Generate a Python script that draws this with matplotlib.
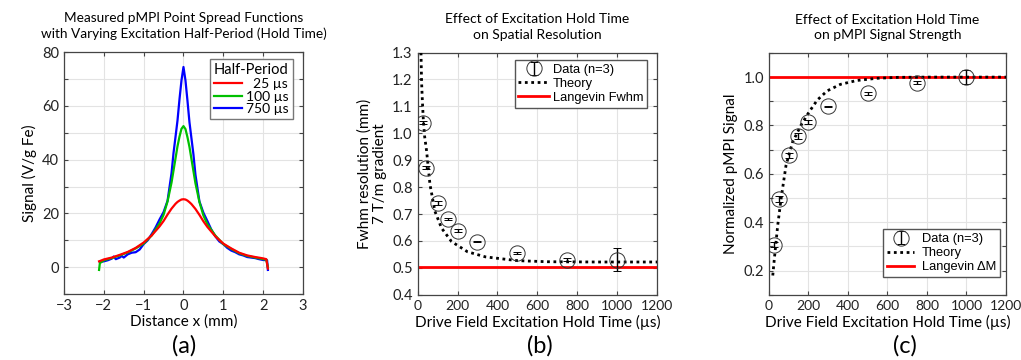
import matplotlib

matplotlib.use("Agg")
import matplotlib.pyplot as plt
import numpy as np

plt.rcParams["font.family"] = ["Lato", "DejaVu Sans"]

# ---- (a) measured PSFs ----
x_rg = [-2.12, -2.10, -2.0, -1.8, -1.6, -1.4, -1.2, -1.0, -0.8, -0.6, -0.5, -0.4, -0.3,
        -0.2, -0.15, -0.1, -0.05, 0.0, 0.05, 0.1, 0.15, 0.2, 0.3, 0.4, 0.5, 0.6, 0.8,
        1.0, 1.2, 1.4, 1.6, 1.8, 2.0, 2.08, 2.12]
psf_25 = [2.2, 2.3, 2.9, 3.6, 4.6, 5.7, 7.2, 9.2, 11.8, 15.2, 17.2, 19.6, 21.8,
          23.6, 24.3, 24.8, 25.2, 25.3, 25.2, 24.8, 24.2, 23.5, 21.7, 19.5, 17.1, 15.0, 11.5,
          8.8, 7.0, 5.4, 4.4, 3.8, 3.3, 3.0, -0.5]
psf_100 = [-1.0, 1.5, 2.6, 3.4, 4.4, 5.5, 7.0, 8.8, 11.8, 16.3, 19.5, 24.5, 31.5,
           40.5, 45.0, 48.6, 51.5, 52.5, 51.4, 48.4, 44.8, 40.3, 31.3, 24.3, 19.3, 16.0, 11.8,
           8.6, 6.8, 5.2, 4.2, 3.6, 3.0, 2.8, 0.0]
x_blue = [-2.10, -2.0, -1.9, -1.8, -1.75, -1.7, -1.6, -1.55, -1.5, -1.4, -1.3, -1.2, -1.1,
          -1.0, -0.9, -0.8, -0.7, -0.6, -0.5, -0.4, -0.3, -0.25, -0.2, -0.15, -0.1, -0.05,
          0.0, 0.05, 0.1, 0.15, 0.2, 0.25, 0.3, 0.4, 0.5, 0.6, 0.7, 0.8, 0.9, 1.0, 1.1, 1.2,
          1.3, 1.4, 1.5, 1.6, 1.7, 1.8, 1.9, 2.0, 2.1, 2.12]
psf_750 = [2.0, 2.2, 2.6, 3.2, 4.0, 3.0, 3.6, 4.2, 3.6, 4.8, 5.4, 5.6, 6.6,
           8.6, 10.0, 12.3, 14.8, 17.8, 20.5, 24.7, 35.0, 42.5, 48.5, 54.6, 62.5, 69.5,
           74.5, 69.5, 62.0, 54.0, 48.0, 42.0, 34.5, 24.5, 20.3, 17.2, 14.0, 11.5, 9.6, 8.6,
           7.2, 6.2, 5.6, 4.8, 4.4, 3.8, 3.6, 3.4, 3.0, 2.7, 2.6, -1.0]

# ---- (b) spatial resolution ----
hold_b = [25, 40, 100, 150, 200, 300, 500, 750, 1000]
fwhm_b = [1.039, 0.873, 0.741, 0.683, 0.639, 0.598, 0.554, 0.530, 0.530]
err_b = [0.006, 0.006, 0.006, 0.004, 0.004, 0.003, 0.004, 0.006, 0.043]
theory_bx = [17, 20, 24, 28, 35, 45, 62, 87, 120, 170, 250, 340, 500, 650, 900, 1200]
theory_by = [1.30, 1.19, 1.12, 1.06, 0.99, 0.935, 0.81, 0.71, 0.648, 0.598, 0.56, 0.541,
             0.527, 0.523, 0.522, 0.522]
langevin_fwhm = 0.504

# ---- (c) signal strength ----
hold_c = [25, 50, 100, 150, 200, 300, 500, 750, 1000]
sig_c = [0.308, 0.497, 0.676, 0.756, 0.814, 0.879, 0.934, 0.976, 1.0]
err_c = [0.010, 0.012, 0.012, 0.012, 0.008, 0.003, 0.006, 0.006, 0.028]
theory_cx = [20, 28, 45, 62, 87, 120, 162, 203, 245, 295, 362, 445, 545, 650, 800, 1200]
theory_cy = [0.18, 0.249, 0.387, 0.497, 0.635, 0.731, 0.80, 0.855, 0.905, 0.943, 0.970,
             0.986, 0.995, 0.999, 1.0, 1.0]
langevin_dm = 1.0

SPINE = "#444444"
GRID = "#e3e3e3"
DOT = (0, (1, 1.3))
LEG_FONT = {"family": ["Liberation Sans"], "size": 9.3}


def style_axes(ax):
    ax.grid(True, color=GRID, linewidth=0.8)
    ax.set_axisbelow(True)
    ax.tick_params(direction="in", top=True, right=True, length=3, width=0.8,
                   colors=SPINE, labelcolor="#222222", labelsize=10.5)
    ax.tick_params(axis="x", labelsize=10)
    for s in ax.spines.values():
        s.set_color(SPINE)
        s.set_linewidth(0.9)


fig = plt.figure(figsize=(10.21, 3.60), dpi=100)

# panel a
ax1 = fig.add_axes([0.0627, 0.183, 0.234, 0.672])
ax1.plot(x_blue, psf_750, color="#0000ff", lw=1.6, label="750 \u00b5s", zorder=3)
ax1.plot(x_rg, psf_100, color="#00c000", lw=1.6, label="100 \u00b5s", zorder=4)
ax1.plot(x_rg, psf_25, color="#ff0000", lw=1.6, label="  25 \u00b5s", zorder=5)
ax1.set_xlim(-3, 3)
ax1.set_ylim(-10, 80)
ax1.set_xticks(np.arange(-3, 4, 1))
ax1.set_yticks(np.arange(-10, 81, 10))
ax1.set_yticklabels(["" if v % 20 else str(v) for v in range(-10, 81, 10)])
style_axes(ax1)
ax1.tick_params(axis="x", labelsize=10.5)
ax1.set_xlabel("Distance x (mm)", fontsize=11, labelpad=1)
ax1.set_ylabel("Signal (V/g Fe)", fontsize=11, labelpad=4)
h, l = ax1.get_legend_handles_labels()
leg = ax1.legend(h[::-1], l[::-1], title="Half-Period", loc="upper right",
                 fontsize=10, title_fontsize=10.5, handlelength=2.0, handletextpad=0.3,
                 labelspacing=0.05, borderpad=0.3, borderaxespad=0, fancybox=False,
                 framealpha=1, edgecolor="#777777", bbox_to_anchor=(0.958, 0.972))
leg._legend_box.align = "left"
ax1.set_title("Measured pMPI Point Spread Functions\nwith Varying Excitation Half-Period (Hold Time)",
              fontsize=9.8, pad=10, linespacing=1.35)

# panel b
ax2 = fig.add_axes([0.409, 0.181, 0.2346, 0.673])
ax2.axhline(langevin_fwhm, color="#ff0000", lw=2, label="Langevin Fwhm", zorder=2)
ax2.plot(theory_bx, theory_by, color="black", lw=2, ls=DOT, label="Theory", zorder=3)
ax2.errorbar(hold_b, fwhm_b, yerr=err_b, fmt="o", ms=11, mfc="none", mec="#333333",
             mew=0.7, ecolor="black", elinewidth=1, capsize=3, capthick=1,
             label="Data (n=3)", zorder=4)
ax2.set_xlim(0, 1200)
ax2.set_ylim(0.4, 1.3)
ax2.set_xticks(np.arange(0, 1201, 200))
ax2.set_yticks(np.round(np.arange(0.4, 1.31, 0.1), 1))
ax2.set_yticklabels([f"{v:.1f}" for v in np.arange(0.4, 1.31, 0.1)])
style_axes(ax2)
ax2.set_xlabel("Drive Field Excitation Hold Time (\u00b5s)", fontsize=11, labelpad=2)
ax2.set_ylabel("Fwhm resolution (mm)\n7 T/m gradient", fontsize=11, labelpad=4,
               linespacing=1.1)
h, l = ax2.get_legend_handles_labels()
ax2.legend([h[2], h[1], h[0]], [l[2], l[1], l[0]], loc="upper right", prop=LEG_FONT,
           handlelength=2.4, handletextpad=0.25, labelspacing=0.15, borderpad=0.3,
           borderaxespad=0, fancybox=False, framealpha=1, edgecolor="#555555",
           bbox_to_anchor=(0.958, 0.97))
ax2.set_title("Effect of Excitation Hold Time\non Spatial Resolution", fontsize=10,
              pad=10, linespacing=1.35)

# panel c
ax3 = fig.add_axes([0.753, 0.181, 0.2323, 0.672])
ax3.axhline(langevin_dm, color="#ff0000", lw=2, label="Langevin \u0394M", zorder=2)
ax3.plot(theory_cx, theory_cy, color="black", lw=2, ls=DOT, label="Theory", zorder=3)
ax3.errorbar(hold_c, sig_c, yerr=err_c, fmt="o", ms=11, mfc="none", mec="#333333",
             mew=0.7, ecolor="black", elinewidth=1, capsize=3, capthick=1,
             label="Data (n=3)", zorder=4)
ax3.set_xlim(0, 1200)
ax3.set_ylim(0.1, 1.1)
ax3.set_xticks(np.arange(0, 1201, 200))
yt = np.round(np.arange(0.1, 1.101, 0.1), 1)
ax3.set_yticks(yt)
ax3.set_yticklabels([f"{v:.1f}" if round(v * 10) % 2 == 0 else "" for v in yt])
style_axes(ax3)
ax3.set_xlabel("Drive Field Excitation Hold Time (\u00b5s)", fontsize=11, labelpad=2)
ax3.set_ylabel("Normalized pMPI Signal", fontsize=11, labelpad=4)
h, l = ax3.get_legend_handles_labels()
ax3.legend([h[2], h[1], h[0]], [l[2], l[1], l[0]], loc="lower right", prop=LEG_FONT,
           handlelength=2.1, handletextpad=0.6, labelspacing=0.15, borderpad=0.3,
           borderaxespad=0, fancybox=False, framealpha=1, edgecolor="#555555",
           bbox_to_anchor=(0.975, 0.074))
ax3.set_title("Effect of Excitation Hold Time\non pMPI Signal Strength", fontsize=10,
              pad=10, linespacing=1.35)

for xc, lab in [(0.180, "(a)"), (0.529, "(b)"), (0.886, "(c)")]:
    fig.text(xc, 0.04, lab, ha="center", va="center", fontsize=17)

fig.savefig("out.png", dpi=100)
